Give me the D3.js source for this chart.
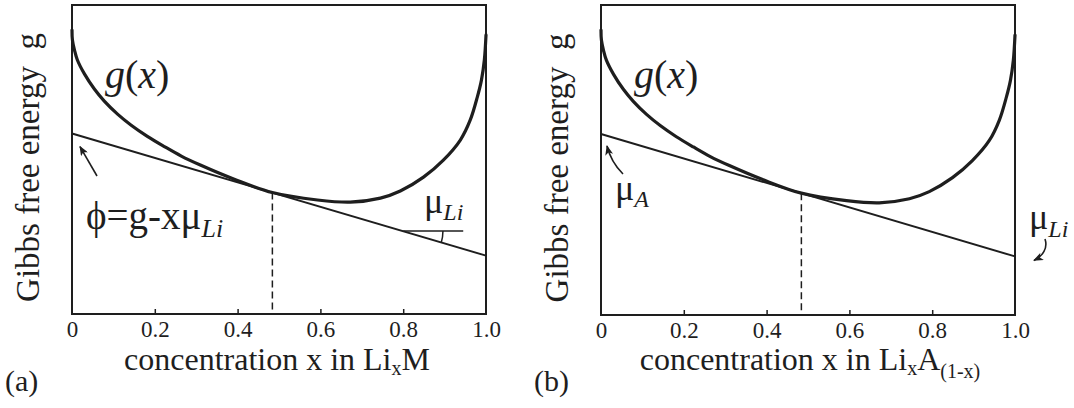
<!DOCTYPE html>
<html>
<head>
<meta charset="utf-8">
<script src="https://cdn.jsdelivr.net/npm/d3@7"></script>
<style>
  html, body { margin: 0; padding: 0; background: #fff; }
  svg { display: block; }
  text { font-family: "Liberation Serif", "Tinos", "Times New Roman", "DejaVu Serif", serif; fill: #1e1e1e; }
</style>
</head>
<body>
<svg id="fig" width="1074" height="408"></svg>
<script>
// Concentration axis ticks
const xTicks = [0, 0.2, 0.4, 0.6, 0.8, 1.0];
const xTickLabels = ["0", "0.2", "0.4", "0.6", "0.8", "1.0"];

// Free-energy curve g(x), sampled points (arbitrary energy units)
const gX = [0, 0.001, 0.006, 0.013, 0.030, 0.054, 0.078, 0.110, 0.143, 0.182, 0.223, 0.264, 0.310,
            0.392, 0.484, 0.593, 0.672, 0.745, 0.793, 0.849, 0.897, 0.938, 0.962, 0.979, 0.989, 0.996, 1.0];
const gY = [0.919, 0.887, 0.854, 0.822, 0.777, 0.728, 0.689, 0.647, 0.611, 0.575, 0.542, 0.511, 0.482,
            0.436, 0.393, 0.369, 0.362, 0.375, 0.398, 0.443, 0.498, 0.563, 0.628, 0.702, 0.757, 0.822, 0.903];

// Tangent line at the contact point
const tangentX = [0, 1];
const tangentG = [0.584, 0.189];
const contactX = 0.484;
const contactG = 0.393;

// Slope marker on panel (a): horizontal reference level and its span
const slopeRefG = 0.269;
const slopeRefX = [0.80, 0.945];
const slopeArcX = 0.896;

const panelTags = ["(a)", "(b)"];

const INK = "#1e1e1e";
const SERIF = '"Liberation Serif", "Tinos", "Times New Roman", "DejaVu Serif", serif';
const svg = d3.select("#fig");
svg.append("rect").attr("width", 1074).attr("height", 408).attr("fill", "#fff");

const defs = svg.append("defs");
defs.append("marker")
  .attr("id", "tip")
  .attr("viewBox", "0 0 10 8")
  .attr("refX", 9).attr("refY", 4)
  .attr("markerWidth", 10).attr("markerHeight", 8)
  .attr("markerUnits", "userSpaceOnUse")
  .attr("orient", "auto")
  .append("path")
  .attr("d", "M0,0 L10,4 L0,8 L2.5,4 Z")
  .attr("fill", INK);

const panels = [
  { left: 72, right: 486, top: 5, bottom: 314 },
  { left: 601, right: 1015, top: 5, bottom: 315 }
];

function drawPanel(p, idx) {
  const x = d3.scaleLinear().domain([0, 1]).range([p.left, p.right]);
  const y = d3.scaleLinear().domain([0, 1]).range([p.bottom, p.top]);
  const g = svg.append("g");

  // axis ticks (inward) and labels
  const axis = d3.axisBottom(x)
    .tickValues(xTicks)
    .tickFormat((d, i) => xTickLabels[i])
    .tickSizeInner(-5).tickSizeOuter(0).tickPadding(7);
  const ax = g.append("g").attr("transform", `translate(0,${p.bottom})`).call(axis)
    .attr("font-family", SERIF).attr("font-size", 23);
  ax.select(".domain").remove();
  ax.selectAll(".tick line").attr("stroke", INK).attr("stroke-width", 1.5)
    .attr("opacity", d => (d === 0 || d === 1) ? 0 : 1);
  ax.selectAll(".tick text").attr("fill", INK);

  // frame
  g.append("rect")
    .attr("x", p.left).attr("y", p.top)
    .attr("width", p.right - p.left).attr("height", p.bottom - p.top)
    .attr("fill", "none").attr("stroke", INK).attr("stroke-width", 2);

  // dashed drop line from contact point
  g.append("line")
    .attr("x1", x(contactX)).attr("x2", x(contactX))
    .attr("y1", y(contactG)).attr("y2", y(0))
    .attr("stroke", INK).attr("stroke-width", 1.5).attr("stroke-dasharray", "7,4");

  // tangent line
  const line = d3.line().x(d => x(d[0])).y(d => y(d[1]));
  g.append("path")
    .attr("d", line(d3.zip(tangentX, tangentG)))
    .attr("fill", "none").attr("stroke", INK).attr("stroke-width", 2);

  // g(x) curve
  const curve = d3.line().x(d => x(d[0])).y(d => y(d[1])).curve(d3.curveCatmullRom.alpha(0.5));
  g.append("path")
    .attr("d", curve(d3.zip(gX, gY)))
    .attr("fill", "none").attr("stroke", INK).attr("stroke-width", 3.2)
    .attr("stroke-linejoin", "round").attr("stroke-linecap", "round");

  // y axis title
  g.append("text")
    .attr("transform", `translate(${p.left - 33},${(p.top + p.bottom) / 2 + 8}) rotate(-90)`)
    .attr("text-anchor", "middle")
    .attr("font-size", 33)
    .style("white-space", "pre")
    .text("Gibbs free energy  g");

  // g(x) label
  const gl = g.append("text").attr("x", p.left + 33).attr("y", 88).attr("font-size", 40);
  gl.append("tspan").attr("font-style", "italic").text("g");
  gl.append("tspan").text("(");
  gl.append("tspan").attr("font-style", "italic").text("x");
  gl.append("tspan").text(")");

  // panel tag
  g.append("text").attr("x", p.left - 67).attr("y", 391).attr("font-size", 30).text(panelTags[idx]);

  return { g, x, y };
}

// ---- panel (a)
{
  const { g, x, y } = drawPanel(panels[0], 0);
  const p = panels[0];
  const cx = (p.left + p.right) / 2;

  const xl = g.append("text").attr("x", cx - 2).attr("y", 370).attr("text-anchor", "middle").attr("font-size", 32);
  xl.append("tspan").text("concentration x in Li");
  xl.append("tspan").attr("font-size", 20).attr("dy", 5).text("x");
  xl.append("tspan").attr("dy", -5).text("M");

  // phi label with arrow to the tangent intercept
  const phi = g.append("text").attr("x", 86).attr("y", 229).attr("font-size", 39);
  phi.append("tspan").text("\u03D5=g-x\u03BC");
  phi.append("tspan").attr("font-size", 26).attr("font-style", "italic").attr("dy", 8).text("Li");

  g.append("line")
    .attr("x1", 97).attr("y1", 176)
    .attr("x2", x(0) + 8).attr("y2", y(tangentG[0]) + 13)
    .attr("stroke", INK).attr("stroke-width", 1.6)
    .attr("marker-end", "url(#tip)");

  // slope marker: horizontal reference and angle arc
  const slopePx = (y(tangentG[1]) - y(tangentG[0])) / (x(1) - x(0));
  const xi = x(0) + (y(slopeRefG) - y(tangentG[0])) / slopePx; // where the reference meets the line
  g.append("line")
    .attr("x1", x(slopeRefX[0])).attr("x2", x(slopeRefX[1]))
    .attr("y1", y(slopeRefG)).attr("y2", y(slopeRefG))
    .attr("stroke", INK).attr("stroke-width", 1.5);
  const r = x(slopeArcX) - xi;
  const ang = Math.atan(slopePx);
  g.append("path")
    .attr("d", `M${xi + r},${y(slopeRefG)} A${r},${r} 0 0 1 ${xi + r * Math.cos(ang)},${y(slopeRefG) + r * Math.sin(ang)}`)
    .attr("fill", "none").attr("stroke", INK).attr("stroke-width", 1.5);

  const mu = g.append("text").attr("x", 424).attr("y", 213).attr("font-size", 36);
  mu.append("tspan").text("\u03BC");
  mu.append("tspan").attr("font-size", 24).attr("font-style", "italic").attr("dy", 7).text("Li");
}

// ---- panel (b)
{
  const { g, x, y } = drawPanel(panels[1], 1);
  const p = panels[1];
  const cx = (p.left + p.right) / 2;

  const xl = g.append("text").attr("x", cx + 2).attr("y", 370).attr("text-anchor", "middle").attr("font-size", 32);
  xl.append("tspan").text("concentration x in Li");
  xl.append("tspan").attr("font-size", 20).attr("dy", 5).text("x");
  xl.append("tspan").attr("dy", -5).text("A");
  xl.append("tspan").attr("font-size", 20).attr("dy", 8).text("(1-x)");

  // mu_A at the left intercept
  const muA = g.append("text").attr("x", 615).attr("y", 200).attr("font-size", 36);
  muA.append("tspan").text("\u03BC");
  muA.append("tspan").attr("font-size", 24).attr("font-style", "italic").attr("dy", 7).text("A");

  const ax0 = x(0) + 6, ay0 = y(tangentG[0]) + 12;
  g.append("path")
    .attr("d", `M623,174 Q611,162 ${ax0},${ay0}`)
    .attr("fill", "none").attr("stroke", INK).attr("stroke-width", 1.6)
    .attr("marker-end", "url(#tip)");

  // mu_Li at the right intercept
  const muL = g.append("text").attr("x", 1029).attr("y", 229).attr("font-size", 36);
  muL.append("tspan").text("\u03BC");
  muL.append("tspan").attr("font-size", 24).attr("font-style", "italic").attr("dy", 8).text("Li");

  const ax1 = x(1) + 19, ay1 = y(tangentG[1]) + 4;
  g.append("path")
    .attr("d", `M1045,239 C1048,248 1043,256 ${ax1},${ay1}`)
    .attr("fill", "none").attr("stroke", INK).attr("stroke-width", 1.6)
    .attr("marker-end", "url(#tip)");
}
</script>
</body>
</html>
